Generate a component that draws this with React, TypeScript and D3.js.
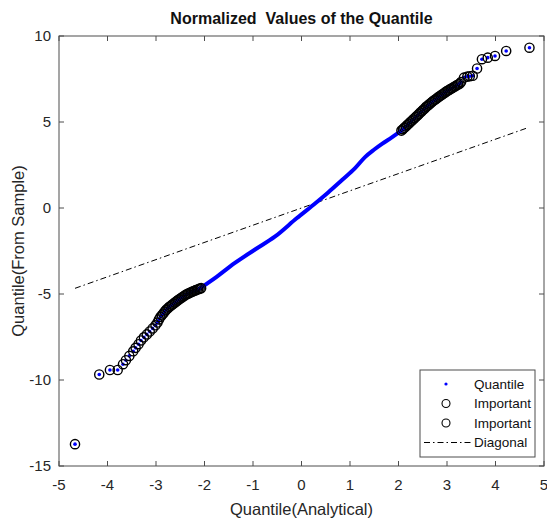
import React from 'react';
import * as d3 from 'd3';

// theoretical quantile (x) vs sample quantile (y)
const quantileLine: [number, number][] = [
  [-2.14, -4.76], [-1.75, -4.0], [-1.38, -3.21], [-0.95, -2.4], [-0.55, -1.67],
  [-0.1, -0.6], [0.28, 0.26], [0.55, 0.9], [0.83, 1.61], [1.1, 2.3],
  [1.31, 2.96], [1.5, 3.4], [1.66, 3.73], [1.87, 4.12], [2.11, 4.6],
];

const lowerTail: [number, number][] = [
  [-4.67, -13.73], [-4.17, -9.68], [-3.95, -9.42], [-3.79, -9.42], [-3.68, -9.08],
  [-3.62, -8.85], [-3.55, -8.6], [-3.47, -8.33], [-3.42, -8.13], [-3.36, -7.92],
  [-3.31, -7.7], [-3.25, -7.52], [-3.19, -7.35], [-3.13, -7.18], [-3.07, -7.0],
  [-3.01, -6.82], [-2.97, -6.66], [-2.94, -6.48], [-2.91, -6.34], [-2.88, -6.24],
  [-2.85, -6.14], [-2.82, -6.02], [-2.79, -5.92], [-2.76, -5.84], [-2.73, -5.76],
  [-2.7, -5.7], [-2.67, -5.63], [-2.64, -5.56], [-2.61, -5.49], [-2.58, -5.43],
  [-2.55, -5.37], [-2.52, -5.31], [-2.49, -5.25], [-2.46, -5.19], [-2.43, -5.13],
  [-2.4, -5.07], [-2.37, -5.02], [-2.34, -4.98], [-2.31, -4.94], [-2.28, -4.9],
  [-2.25, -4.86], [-2.22, -4.83], [-2.19, -4.79], [-2.16, -4.75], [-2.13, -4.72],
  [-2.1, -4.69], [-2.07, -4.66],
];

const upperTail: [number, number][] = [
  [2.06, 4.5], [2.09, 4.58], [2.12, 4.66], [2.15, 4.74], [2.18, 4.82],
  [2.21, 4.9], [2.24, 4.98], [2.27, 5.06], [2.3, 5.14], [2.33, 5.22],
  [2.36, 5.3], [2.39, 5.38], [2.42, 5.46], [2.45, 5.55], [2.48, 5.63],
  [2.51, 5.71], [2.54, 5.79], [2.57, 5.88], [2.6, 5.95], [2.63, 6.02],
  [2.66, 6.09], [2.69, 6.16], [2.72, 6.23], [2.75, 6.29], [2.78, 6.35],
  [2.81, 6.42], [2.84, 6.48], [2.87, 6.54], [2.9, 6.6], [2.93, 6.66],
  [2.96, 6.72], [2.99, 6.78], [3.02, 6.83], [3.05, 6.88], [3.08, 6.93],
  [3.11, 6.98], [3.14, 7.03], [3.17, 7.08], [3.2, 7.13], [3.23, 7.18],
  [3.26, 7.23], [3.29, 7.32], [3.35, 7.58], [3.42, 7.64], [3.47, 7.66],
  [3.53, 7.69], [3.62, 8.11], [3.72, 8.65], [3.84, 8.74], [3.99, 8.84],
  [4.22, 9.13], [4.7, 9.32],
];

const diagonal: [number, number][] = [[-4.67, -4.67], [4.67, 4.67]];

const xTicks = [-5, -4, -3, -2, -1, 0, 1, 2, 3, 4, 5];
const yTicks = [-15, -10, -5, 0, 5, 10];
const legendLabels = ['Quantile', 'Important', 'Important', 'Diagonal'];

const W = 547;
const H = 522;
const L = 59, R = 544, T = 36, B = 466;
const font = '"Liberation Sans", Arial, Helvetica, sans-serif';
const axisColor = '#4d4d4d';

export default function App() {
  const x = d3.scaleLinear().domain([-5, 5]).range([L, R]);
  const y = d3.scaleLinear().domain([-15, 10]).range([B, T]);
  const line = d3.line<[number, number]>().x((d) => x(d[0])).y((d) => y(d[1]));
  const tails = [...lowerTail, ...upperTail];

  const lx = 420, ly = 370, lw = 115, lh = 87;
  const rowY = (i: number) => ly + 14 + i * 19.5;

  return (
    <svg width={W} height={H} style={{ position: 'absolute', left: 0, top: 0, background: '#fff' }}
      fontFamily={font}>
      <rect x={0} y={0} width={W} height={H} fill="#fff" />
      <text x={(L + R) / 2} y={24} textAnchor="middle" fontSize={16} fontWeight="bold" fill="#111"
        style={{ whiteSpace: 'pre' }}>
        {'Normalized  Values of the Quantile'}
      </text>

      {/* diagonal */}
      <path d={line(diagonal) || ''} stroke="#000" strokeWidth={1} fill="none"
        strokeDasharray="6,3,1.5,3" />

      {/* dense quantile points */}
      <path d={line.curve(d3.curveCatmullRom)(quantileLine) || ''} stroke="#0000ff" strokeWidth={4}
        fill="none" strokeLinecap="round" />
      {tails.map((d, i) => (
        <circle key={'b' + i} cx={x(d[0])} cy={y(d[1])} r={1.8} fill="#0000ff" />
      ))}
      {[lowerTail, upperTail].map((set, k) =>
        set.map((d, i) => (
          <circle key={k + '-' + i} cx={x(d[0])} cy={y(d[1])} r={4.6} fill="none"
            stroke="#000" strokeWidth={1.4} />
        ))
      )}

      {/* axes box */}
      <rect x={L} y={T} width={R - L} height={B - T} fill="none" stroke={axisColor} strokeWidth={1} />
      {xTicks.map((t) => (
        <g key={'x' + t}>
          <line x1={x(t)} x2={x(t)} y1={B} y2={B - 5} stroke={axisColor} />
          <line x1={x(t)} x2={x(t)} y1={T} y2={T + 5} stroke={axisColor} />
          <text x={x(t)} y={B + 24} textAnchor="middle" fontSize={15} fill="#262626">
            {t}
          </text>
        </g>
      ))}
      {yTicks.map((t) => (
        <g key={'y' + t}>
          <line x1={L} x2={L + 5} y1={y(t)} y2={y(t)} stroke={axisColor} />
          <line x1={R} x2={R - 5} y1={y(t)} y2={y(t)} stroke={axisColor} />
          <text x={L - 8} y={y(t) + 5} textAnchor="end" fontSize={15} fill="#262626">
            {t}
          </text>
        </g>
      ))}
      <text x={(L + R) / 2} y={515} textAnchor="middle" fontSize={16.5} fill="#262626">
        Quantile(Analytical)
      </text>
      <text transform={`translate(24,${(T + B) / 2}) rotate(-90)`} textAnchor="middle" fontSize={16.5}
        fill="#262626">
        Quantile(From Sample)
      </text>

      {/* legend */}
      <rect x={lx} y={ly} width={lw} height={lh} fill="#fff" stroke={axisColor} strokeWidth={1} />
      {legendLabels.map((s, i) => (
        <text key={s + i} x={lx + 54} y={rowY(i) + 4.5} fontSize={13.5} fill="#111">
          {s}
        </text>
      ))}
      <circle cx={lx + 26} cy={rowY(0)} r={1.6} fill="#0000ff" />
      <circle cx={lx + 26} cy={rowY(1)} r={4} fill="none" stroke="#000" strokeWidth={1.1} />
      <circle cx={lx + 26} cy={rowY(2)} r={4} fill="none" stroke="#000" strokeWidth={1.1} />
      <line x1={lx + 4} x2={lx + 51} y1={rowY(3)} y2={rowY(3)} stroke="#000" strokeWidth={1}
        strokeDasharray="6,3,1.5,3" />
    </svg>
  );
}
